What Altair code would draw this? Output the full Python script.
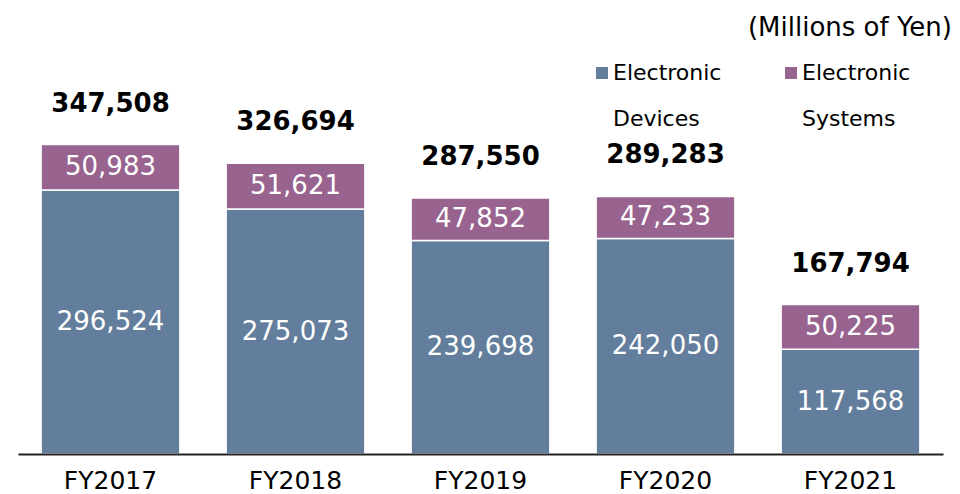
import altair as alt
import pandas as pd

years = ["FY2017", "FY2018", "FY2019", "FY2020", "FY2021"]
devices = [296524, 275073, 239698, 242050, 117568]
systems = [50983, 51621, 47852, 47233, 50225]
totals_vals = [347508, 326694, 287550, 289283, 167794]
series = ["Electronic Devices", "Electronic Systems"]
colors = ["#627E9C", "#98638F"]

rows = []
for i, yr in enumerate(years):
    rows.append({"year": yr, "series": series[0], "value": devices[i], "rank": 0})
    rows.append({"year": yr, "series": series[1], "value": systems[i], "rank": 1})
df = pd.DataFrame(rows)
df_tot = pd.DataFrame({"year": years, "total": totals_vals})

FONT = "DejaVu Sans"
yscale = alt.Scale(domain=[0, 456000])

x = alt.X(
    "year:N",
    sort=years,
    scale=alt.Scale(paddingInner=0.25, paddingOuter=0.125),
    axis=alt.Axis(
        title=None, labelAngle=0, ticks=False, domainColor="#222222", domainWidth=2,
        labelFontSize=25, labelColor="black", labelPadding=14, labelFont=FONT, zindex=1,
    ),
)

base = alt.Chart(df).transform_stack(
    stack="value", groupby=["year"], as_=["v0", "v1"],
    sort=[alt.SortField("rank", order="ascending")],
)

bars = base.mark_bar(stroke="white", strokeWidth=1.5).encode(
    x=x,
    y=alt.Y("v0:Q", scale=yscale, axis=None),
    y2="v1:Q",
    color=alt.Color(
        "series:N",
        scale=alt.Scale(domain=series, range=colors),
        legend=alt.Legend(
            title=None, orient="none", legendX=573, legendY=21, direction="horizontal",
            columns=2, symbolType="M-1,-2.17H1V-0.17H-1Z", symbolSize=144, symbolStrokeWidth=0,
            labelFontSize=22, labelFont=FONT, labelColor="black",
            labelExpr="split(datum.label, ' ')",
            labelBaseline="alphabetic", labelOffset=0, columnPadding=58, padding=0, labelLimit=300,
        ),
    ),
)

seg_labels = base.transform_calculate(mid="(datum.v0 + datum.v1) / 2").mark_text(
    color="white", fontSize=26, font=FONT
).encode(
    x=x,
    y=alt.Y("mid:Q", scale=yscale),
    text=alt.Text("value:Q", format=","),
)

totals = alt.Chart(df_tot).mark_text(
    color="black", fontSize=26, fontWeight="bold", font=FONT, dy=-41
).encode(
    x=x,
    y=alt.Y("total:Q", scale=yscale),
    text=alt.Text("total:Q", format=","),
)

chart = alt.layer(bars, seg_labels, totals).properties(
    width=925,
    height=406,
    autosize="none",
    padding={"left": 10, "top": 40, "right": 9, "bottom": 39},
    title=alt.TitleParams(
        "(Millions of Yen)", anchor="end", fontSize=26, fontWeight="normal",
        font=FONT, color="black", dx=9, offset=7,
    ),
).configure(
    style={"guide-label": {"lineHeight": 46}}
).configure_view(stroke=None)

chart.save("out.html", embed_options={"renderer": "svg", "actions": False})
